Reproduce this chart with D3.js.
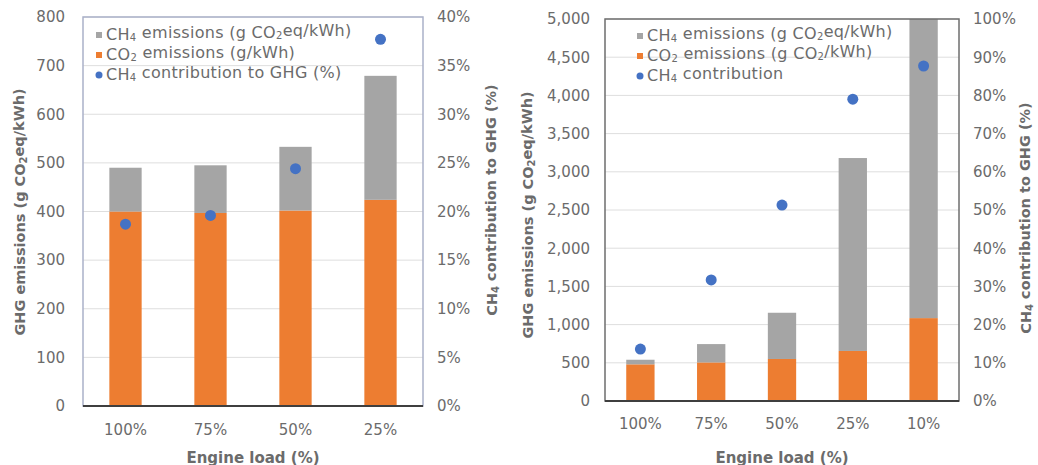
<!DOCTYPE html>
<html>
<head>
<meta charset="utf-8">
<script src="https://cdn.jsdelivr.net/npm/d3@7"></script>
<style>
  html, body { margin: 0; padding: 0; background: #fff; }
  svg { display: block; font-family: "DejaVu Sans", Verdana, sans-serif; }
</style>
</head>
<body>
<svg id="chart" width="1038" height="465"></svg>
<script>
// Engine-load categories
const loadsA = ["100%", "75%", "50%", "25%"];
const loadsB = ["100%", "75%", "50%", "25%", "10%"];

// Panel A: emissions (g/kWh, g CO2eq/kWh) and CH4 share (%)
const co2A = [400, 397, 402, 424];
const ch4A = [90, 98, 131, 255];
const shareA = [18.7, 19.6, 24.4, 37.7];

// Panel B: emissions and CH4 share (%)
const co2B = [480, 505, 550, 655, 1085];
const ch4B = [60, 240, 605, 2525, 7700];
const shareB = [13.6, 31.7, 51.3, 79.0, 87.7];

// Axis ticks
const ticksLeftA = [0, 100, 200, 300, 400, 500, 600, 700, 800];
const ticksRightA = [0, 5, 10, 15, 20, 25, 30, 35, 40];
const ticksLeftB = [0, 500, 1000, 1500, 2000, 2500, 3000, 3500, 4000, 4500, 5000];
const ticksRightB = [0, 10, 20, 30, 40, 50, 60, 70, 80, 90, 100];

const C_CH4 = "#a5a5a5", C_CO2 = "#ed7d31", C_DOT = "#4472c4";
const TXT = "#6b6b6b", GRID = "#dedede";
const TICK_SIZE = 15, TITLE_SIZE = 14.5, LEGEND_SIZE = 16;

const svg = d3.select("#chart");

// Append text with chemical subscripts, parts given as [string, isSub]
function richText(sel, parts, subSize) {
  let lastSub = false;
  parts.forEach(([s, sub]) => {
    const t = sel.append("tspan").text(s);
    if (sub) t.attr("font-size", subSize).attr("dy", "0.3em");
    else if (lastSub) t.attr("dy", "-0.3em");
    lastSub = sub;
  });
}

function panel(cfg) {
  const { id, x0, x1, y0, y1, cats, co2, ch4, share, leftTicks, leftMax,
          rightTicks, rightMax, frameColor, legendRows, leftFmt, pIn, pOut,
          leftGap, leftTitleX, rightTitleX, leftTitleCY, rightTitleCY,
          xLabelY, xTitleY } = cfg;

  const g = svg.append("g");
  const x = d3.scaleBand().domain(cats).range([x0, x1]).paddingInner(pIn).paddingOuter(pOut);
  const y = d3.scaleLinear().domain([0, leftMax]).range([y1, y0]);
  const yR = d3.scaleLinear().domain([0, rightMax]).range([y1, y0]);

  // Gridlines
  g.append("g").selectAll("line").data(leftTicks.slice(1)).join("line")
    .attr("x1", x0).attr("x2", x1)
    .attr("y1", d => y(d)).attr("y2", d => y(d))
    .attr("stroke", GRID).attr("stroke-width", 1);

  // Clip bars to the plot area
  svg.append("clipPath").attr("id", id).append("rect")
    .attr("x", x0).attr("y", y0).attr("width", x1 - x0).attr("height", y1 - y0);

  const bars = g.append("g").attr("clip-path", `url(#${id})`);
  bars.selectAll("rect.co2").data(cats).join("rect").attr("class", "co2")
    .attr("x", d => x(d)).attr("width", x.bandwidth())
    .attr("y", (d, i) => y(co2[i])).attr("height", (d, i) => y(0) - y(co2[i]))
    .attr("fill", C_CO2);
  bars.selectAll("rect.ch4").data(cats).join("rect").attr("class", "ch4")
    .attr("x", d => x(d)).attr("width", x.bandwidth())
    .attr("y", (d, i) => y(co2[i] + ch4[i])).attr("height", (d, i) => y(co2[i]) - y(co2[i] + ch4[i]))
    .attr("fill", C_CH4);

  // Plot frame
  g.append("rect").attr("x", x0).attr("y", y0).attr("width", x1 - x0).attr("height", y1 - y0)
    .attr("fill", "none").attr("stroke", frameColor).attr("stroke-width", 1.5);
  g.append("line").attr("x1", x0).attr("x2", x1).attr("y1", y1).attr("y2", y1)
    .attr("stroke", "#3f3f3f").attr("stroke-width", 2);

  // Share dots
  g.append("g").selectAll("circle").data(cats).join("circle")
    .attr("cx", d => x(d) + x.bandwidth() / 2)
    .attr("cy", (d, i) => yR(share[i]))
    .attr("r", 5.5).attr("fill", C_DOT);

  // Left axis
  const la = g.append("g").attr("transform", `translate(${x0 - leftGap},0)`)
    .call(d3.axisLeft(y).tickValues(leftTicks).tickFormat(leftFmt).tickSize(0).tickPadding(0));
  la.select(".domain").remove();
  la.selectAll("text").attr("fill", TXT).attr("font-size", TICK_SIZE)
    .attr("font-family", "DejaVu Sans, Verdana, sans-serif");

  // Right axis
  const ra = g.append("g").attr("transform", `translate(${x1 + 14},0)`)
    .call(d3.axisRight(yR).tickValues(rightTicks).tickFormat(d => d + "%").tickSize(0).tickPadding(0));
  ra.select(".domain").remove();
  ra.selectAll("text").attr("fill", TXT).attr("font-size", TICK_SIZE)
    .attr("font-family", "DejaVu Sans, Verdana, sans-serif");

  // Category labels
  g.append("g").selectAll("text").data(cats).join("text")
    .attr("x", d => x(d) + x.bandwidth() / 2).attr("y", xLabelY)
    .attr("text-anchor", "middle").attr("dominant-baseline", "middle")
    .attr("fill", TXT).attr("font-size", TICK_SIZE).text(d => d);

  // Axis titles
  g.append("text").attr("x", (x0 + x1) / 2).attr("y", xTitleY)
    .attr("text-anchor", "middle").attr("dominant-baseline", "middle")
    .attr("fill", TXT).attr("font-size", 15).attr("font-weight", "bold")
    .text("Engine load (%)");

  const lt = g.append("text")
    .attr("transform", `translate(${leftTitleX},${leftTitleCY}) rotate(-90)`)
    .attr("text-anchor", "middle").attr("dominant-baseline", "middle")
    .attr("fill", TXT).attr("font-size", TITLE_SIZE).attr("font-weight", "bold");
  richText(lt, [["GHG emissions (g CO", false], ["2", true], ["eq/kWh)", false]], 10);

  const rt = g.append("text")
    .attr("transform", `translate(${rightTitleX},${rightTitleCY}) rotate(-90)`)
    .attr("text-anchor", "middle").attr("dominant-baseline", "middle")
    .attr("fill", TXT).attr("font-size", TITLE_SIZE).attr("font-weight", "bold");
  richText(rt, [["CH", false], ["4", true], [" contribution to GHG (%)", false]], 10);

  // Legend
  const lg = g.append("g");
  legendRows.forEach(row => {
    const ly = row.y;
    if (row.kind === "dot") {
      lg.append("circle").attr("cx", row.mx + 3).attr("cy", ly).attr("r", 3.5).attr("fill", row.color);
    } else {
      lg.append("rect").attr("x", row.mx).attr("y", ly - 3).attr("width", 6).attr("height", 6).attr("fill", row.color);
    }
    const t = lg.append("text").attr("x", row.mx + 10).attr("y", ly)
      .attr("dominant-baseline", "middle").attr("fill", TXT)
      .attr("font-size", LEGEND_SIZE).attr("letter-spacing", 0.3);
    richText(t, row.parts, 10);
  });
}

panel({
  id: "clipA", x0: 83, x1: 423, y0: 17, y1: 406,
  cats: loadsA, co2: co2A, ch4: ch4A, share: shareA,
  leftTicks: ticksLeftA, leftMax: 800, rightTicks: ticksRightA, rightMax: 40,
  frameColor: "#aab1c9", leftFmt: d3.format("d"), pIn: 0.62, pOut: 0.31,
  leftGap: 18, leftTitleX: 21, rightTitleX: 493, leftTitleCY: 212, rightTitleCY: 200,
  xLabelY: 430, xTitleY: 458,
  legendRows: [
    { y: 35, kind: "sq", color: C_CH4, mx: 96,
      parts: [["CH", false], ["4", true], [" emissions (g CO", false], ["2", true], ["eq/kWh)", false]] },
    { y: 55, kind: "sq", color: C_CO2, mx: 96,
      parts: [["CO", false], ["2", true], [" emissions (g/kWh)", false]] },
    { y: 75, kind: "dot", color: C_DOT, mx: 96,
      parts: [["CH", false], ["4", true], [" contribution to GHG (%)", false]] }
  ]
});

panel({
  id: "clipB", x0: 605, x1: 959, y0: 19, y1: 401,
  cats: loadsB, co2: co2B, ch4: ch4B, share: shareB,
  leftTicks: ticksLeftB, leftMax: 5000, rightTicks: ticksRightB, rightMax: 100,
  frameColor: "#6e6e6e", leftFmt: d3.format(","), pIn: 0.6, pOut: 0.3,
  leftGap: 15, leftTitleX: 529, rightTitleX: 1027, leftTitleCY: 215, rightTitleCY: 218,
  xLabelY: 424, xTitleY: 458,
  legendRows: [
    { y: 36, kind: "sq", color: C_CH4, mx: 637,
      parts: [["CH", false], ["4", true], [" emissions (g CO", false], ["2", true], ["eq/kWh)", false]] },
    { y: 56, kind: "sq", color: C_CO2, mx: 637,
      parts: [["CO", false], ["2", true], [" emissions (g CO", false], ["2", true], ["/kWh)", false]] },
    { y: 76, kind: "dot", color: C_DOT, mx: 637,
      parts: [["CH", false], ["4", true], [" contribution", false]] }
  ]
});
</script>
</body>
</html>
